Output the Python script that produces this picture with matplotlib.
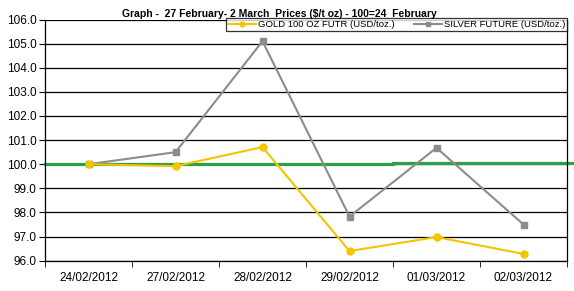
import matplotlib
matplotlib.use("Agg")
import matplotlib.pyplot as plt
import numpy as np

plt.rcParams['font.family'] = ['Liberation Sans', 'DejaVu Sans']

dates = ["24/02/2012", "27/02/2012", "28/02/2012", "29/02/2012", "01/03/2012", "02/03/2012"]
gold = [100.0, 99.92, 100.71, 96.4, 96.98, 96.28]
silver = [100.0, 100.5, 105.1, 97.83, 100.68, 97.5]
base_left = 100.0
base_right = 100.06

title = "Graph -  27 February- 2 March  Prices ($/t oz) - 100=24  February"
gold_label = "GOLD 100 OZ FUTR (USD/toz.)"
silver_label = "SILVER FUTURE (USD/toz.)"

fig = plt.figure(figsize=(5.74, 2.91), dpi=100)
ax = fig.add_axes([45 / 574, 1 - 260.7 / 291, 522 / 574, 241.2 / 291])

x = np.arange(len(dates))

# baseline (100 = 24 February)
ax.plot([-0.5, 3.5], [base_left, base_left], color="#2f9e4c", lw=2.3, zorder=2, clip_on=False)
ax.plot([3.5, 5.56], [base_right, base_right], color="#2f9e4c", lw=2.3, zorder=2, clip_on=False)

ax.plot(x, gold, color="#f2c500", lw=1.5, marker="o", ms=5, mec="#f2c500", label=gold_label, zorder=4)
ax.plot(x, silver, color="#8c8c8c", lw=1.5, marker="s", ms=4.5, mec="#8c8c8c", label=silver_label, zorder=3)

ax.set_xlim(-0.5, len(dates) - 0.5)
ax.set_ylim(96, 106)
ax.set_yticks(np.arange(96, 106.1, 1))
ax.set_yticklabels([f"{v:.1f}" for v in np.arange(96, 106.1, 1)], fontsize=8.5)
ax.set_xticks(x)
ax.set_xticklabels(dates, fontsize=8.5)
ax.set_xticks(np.arange(-0.5, len(dates) + 0.5, 1), minor=True)
ax.tick_params(axis="x", which="major", length=0, pad=8)
ax.tick_params(axis="x", which="minor", length=4, direction="out", color="black")
ax.tick_params(axis="y", length=4, direction="out", color="black", pad=2)

ax.grid(axis="y", color="black", lw=0.9, zorder=1)
for s in ["left", "bottom", "right"]:
    ax.spines[s].set_color("black")
    ax.spines[s].set_linewidth(0.9)
ax.spines["top"].set_visible(False)

fig.text(0.487, 0.952, title, ha="center", va="center", fontsize=7.5, fontweight="bold")

leg = ax.legend(loc="upper right", bbox_to_anchor=(1.0, 1.006), ncol=2, fontsize=6.8,
                frameon=True, fancybox=False, edgecolor="black", borderpad=0.2,
                handlelength=3.0, handletextpad=0.2, columnspacing=2.0, borderaxespad=0)
leg.get_frame().set_linewidth(0.9)
leg.set_zorder(5)
for h in leg.legend_handles:
    h.set_markersize(3.5)

fig.savefig("out.png", dpi=100)
